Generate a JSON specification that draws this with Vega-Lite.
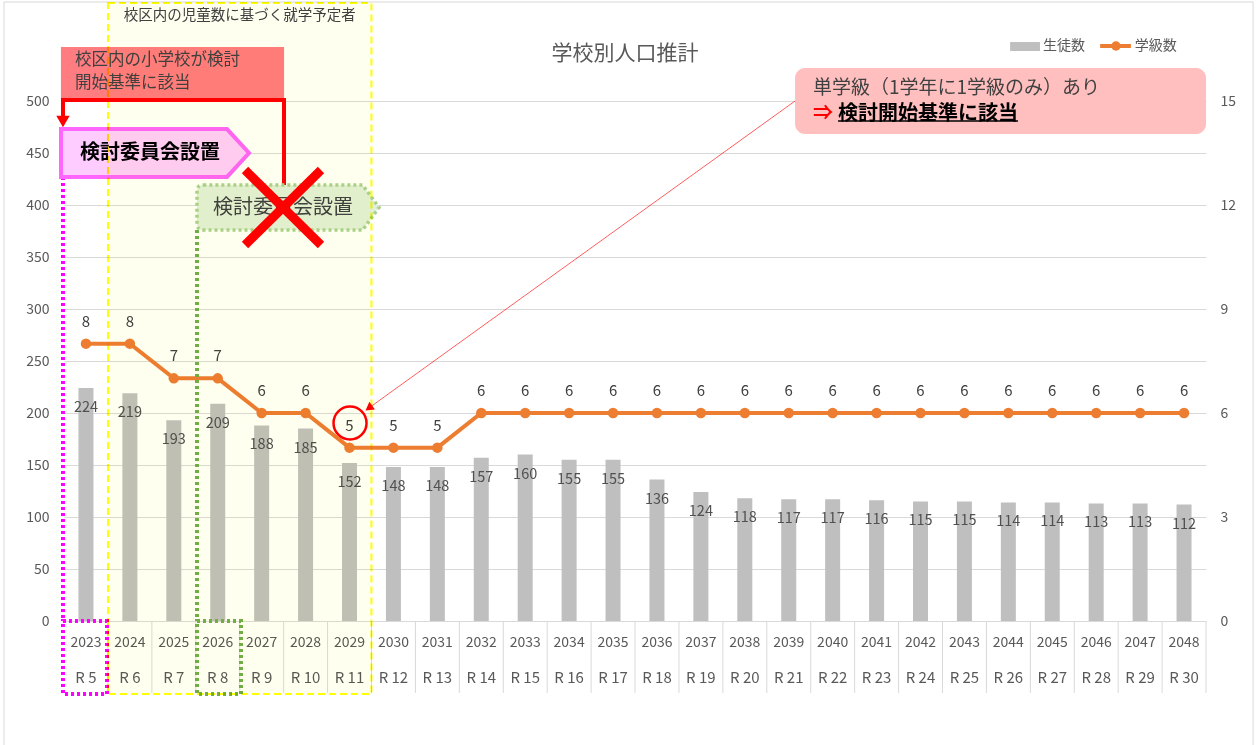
{
  "$schema": "https://vega.github.io/schema/vega-lite/v6.json",
  "width": 1142,
  "height": 520,
  "autosize": {"type": "none"},
  "padding": {"left": 64, "top": 101, "right": 50, "bottom": 124},
  "background": "white",
  "config": {"view": {"stroke": null}, "font": "Noto Sans CJK JP", "text": {"font": "Noto Sans CJK JP"}},
  "datasets": {
    "main": [
      {"year": 2023, "students": 224, "classes": 8, "era": "R 5"},
      {"year": 2024, "students": 219, "classes": 8, "era": "R 6"},
      {"year": 2025, "students": 193, "classes": 7, "era": "R 7"},
      {"year": 2026, "students": 209, "classes": 7, "era": "R 8"},
      {"year": 2027, "students": 188, "classes": 6, "era": "R 9"},
      {"year": 2028, "students": 185, "classes": 6, "era": "R 10"},
      {"year": 2029, "students": 152, "classes": 5, "era": "R 11"},
      {"year": 2030, "students": 148, "classes": 5, "era": "R 12"},
      {"year": 2031, "students": 148, "classes": 5, "era": "R 13"},
      {"year": 2032, "students": 157, "classes": 6, "era": "R 14"},
      {"year": 2033, "students": 160, "classes": 6, "era": "R 15"},
      {"year": 2034, "students": 155, "classes": 6, "era": "R 16"},
      {"year": 2035, "students": 155, "classes": 6, "era": "R 17"},
      {"year": 2036, "students": 136, "classes": 6, "era": "R 18"},
      {"year": 2037, "students": 124, "classes": 6, "era": "R 19"},
      {"year": 2038, "students": 118, "classes": 6, "era": "R 20"},
      {"year": 2039, "students": 117, "classes": 6, "era": "R 21"},
      {"year": 2040, "students": 117, "classes": 6, "era": "R 22"},
      {"year": 2041, "students": 116, "classes": 6, "era": "R 23"},
      {"year": 2042, "students": 115, "classes": 6, "era": "R 24"},
      {"year": 2043, "students": 115, "classes": 6, "era": "R 25"},
      {"year": 2044, "students": 114, "classes": 6, "era": "R 26"},
      {"year": 2045, "students": 114, "classes": 6, "era": "R 27"},
      {"year": 2046, "students": 113, "classes": 6, "era": "R 28"},
      {"year": 2047, "students": 113, "classes": 6, "era": "R 29"},
      {"year": 2048, "students": 112, "classes": 6, "era": "R 30"}
    ],
    "border": [{"x": 2021.134, "x2": 2049.572, "y": 595.2, "y2": -130}],
    "yellowBox": [{"x": 2023.5, "x2": 2029.5, "y": 594.2, "y2": -70.2}],
    "yellowText": [{"x": 2026.5, "y": 581.7, "text": "校区内の児童数に基づく就学予定者"}],
    "redBox": [{"x": 2022.43, "x2": 2027.51, "y": 551.9, "y2": 501}],
    "redBoxText": [
      {"x": 2022.75, "y": 539.9, "text": "校区内の小学校が検討"},
      {"x": 2022.75, "y": 517.3, "text": "開始基準に該当"}
    ],
    "connector": [
      {"order": 1, "x": 2027.509, "y": 417.3},
      {"order": 2, "x": 2027.509, "y": 501.0},
      {"order": 3, "x": 2022.477, "y": 501.0},
      {"order": 4, "x": 2022.477, "y": 485.6}
    ],
    "connectorHead": [{"x": 2022.477, "y": 480.3}],
    "pinkChevron": [{"x": 2024.572, "y": 450}],
    "pinkText": [{"x": 2022.864, "y": 450, "text": "検討委員会設置"}],
    "magentaLine": [{"x": 2022.477, "y": 426.9, "y2": 0}],
    "magentaBox": [{"x": 2022.477, "x2": 2023.479, "y": 0, "y2": -70.2}],
    "greenChevron": [{"x": 2027.6, "y": 397.6}],
    "greenText": [{"x": 2025.892, "y": 397.1, "text": "検討委員会設置"}],
    "greenLine": [{"x": 2025.528, "y": 376, "y2": 0}],
    "greenBox": [{"x": 2025.528, "x2": 2026.53, "y": 0, "y2": -70.2}],
    "redX": [
      {"x": 2026.621, "y": 433.7, "x2": 2028.351, "y2": 361.5},
      {"x": 2028.351, "y": 433.7, "x2": 2026.621, "y2": 361.5}
    ],
    "circle": [{"x": 2029.012, "y": 190.4}],
    "pointer": [{"x": 2039.144, "y": 500, "x2": 2029.44, "y2": 204.8}],
    "pointerHead": [{"x": 2029.44, "y": 204.8}],
    "callout": [{"x": 2039.144, "x2": 2048.5, "y": 531.7, "y2": 468.3}],
    "calloutText": [{"x": 2039.553, "y": 512.5, "text": "単学級（1学年に1学級のみ）あり"}],
    "calloutArrow": [{"x": 2039.553, "y": 487.5, "text": "⇒"}],
    "calloutBold": [{"x": 2040.123, "y": 487.5, "text": "検討開始基準に該当"}],
    "underline": [{"x": 2040.123, "x2": 2044.22, "y": 480.8}],
    "title": [{"x": 2035.273, "y": 545.2, "text": "学校別人口推計"}],
    "legendBar": [{"x": 2044.04, "x2": 2044.72, "y": 556.7, "y2": 548.1}],
    "legendLine": [{"x": 2046.09, "x2": 2046.79, "y": 552.9}],
    "legendDot": [{"x": 2046.45, "y": 552.9}],
    "legendText": [
      {"x": 2044.79, "y": 552.9, "text": "生徒数"},
      {"x": 2046.88, "y": 552.9, "text": "学級数"}
    ]
  },
  "resolve": {"scale": {"y": "independent"}},
  "layer": [
    {
      "data": {"name": "main"},
      "layer": [
        {
          "mark": {"type": "bar", "width": 15, "color": "#BFBFBF"},
          "encoding": {
            "x": {"field": "year", "type": "quantitative", "scale": {"domain": [2022.5, 2048.5], "nice": false, "zero": false, "padding": 0}, "axis": null},
            "y": {"field": "students", "type": "quantitative", "scale": {"domain": [0, 500], "nice": false, "zero": false},
              "axis": {"orient": "left", "values": [0, 50, 100, 150, 200, 250, 300, 350, 400, 450, 500], "title": null, "grid": true, "gridColor": "#D9D9D9", "gridWidth": 1, "domain": false, "ticks": false, "labelColor": "#595959", "labelFontSize": 14, "labelPadding": 15, "labelFont": "Noto Sans CJK JP"}}
          }
        },
        {
          "mark": {"type": "text", "dy": 20, "baseline": "middle", "fontSize": 14.5, "color": "#505050"},
          "encoding": {
            "x": {"field": "year", "type": "quantitative", "axis": null},
            "y": {"field": "students", "type": "quantitative"},
            "text": {"field": "students", "type": "quantitative"}
          }
        },
        {
          "mark": {"type": "text", "dy": 22, "baseline": "middle", "fontSize": 14, "color": "#595959"},
          "encoding": {
            "x": {"field": "year", "type": "quantitative", "axis": null},
            "y": {"datum": 0, "type": "quantitative"},
            "text": {"field": "year", "type": "nominal"}
          }
        },
        {
          "mark": {"type": "text", "dy": 57, "baseline": "middle", "fontSize": 15, "color": "#595959"},
          "encoding": {
            "x": {"field": "year", "type": "quantitative", "axis": null},
            "y": {"datum": 0, "type": "quantitative"},
            "text": {"field": "era", "type": "nominal"}
          }
        },
        {
          "mark": {"type": "rule", "xOffset": 22, "color": "#D9D9D9", "strokeWidth": 1},
          "encoding": {
            "x": {"field": "year", "type": "quantitative", "axis": null},
            "y": {"datum": 0, "type": "quantitative"},
            "y2": {"datum": -69.2}
          }
        }
      ]
    },
    {
      "data": {"name": "main"},
      "layer": [
        {
          "mark": {"type": "line", "color": "#ED7D31", "strokeWidth": 4, "point": {"filled": true, "size": 110, "color": "#ED7D31", "opacity": 1}},
          "encoding": {
            "x": {"field": "year", "type": "quantitative", "axis": null},
            "y": {"field": "classes", "type": "quantitative", "scale": {"domain": [0, 15], "nice": false, "zero": false},
              "axis": {"orient": "right", "values": [0, 3, 6, 9, 12, 15], "title": null, "grid": false, "domain": false, "ticks": false, "labelColor": "#595959", "labelFontSize": 14, "labelPadding": 14, "labelFont": "Noto Sans CJK JP"}}
          }
        },
        {
          "mark": {"type": "text", "dy": -22, "baseline": "middle", "fontSize": 15, "color": "#404040"},
          "encoding": {
            "x": {"field": "year", "type": "quantitative", "axis": null},
            "y": {"field": "classes", "type": "quantitative"},
            "text": {"field": "classes", "type": "quantitative"}
          }
        }
      ]
    },
    {
      "layer": [
        {
          "data": {"name": "border"},
          "mark": {"type": "rect", "fill": null, "stroke": "#D9D9D9", "strokeWidth": 1},
          "encoding": {
            "x": {"field": "x", "type": "quantitative", "axis": null}, "x2": {"field": "x2"},
            "y": {"field": "y", "type": "quantitative", "scale": {"domain": [0, 500], "nice": false, "zero": false}, "axis": null}, "y2": {"field": "y2"}
          }
        },
        {
          "data": {"name": "redBox"},
          "mark": {"type": "rect", "fill": "#FF7C80"},
          "encoding": {
            "x": {"field": "x", "type": "quantitative", "axis": null}, "x2": {"field": "x2"},
            "y": {"field": "y", "type": "quantitative", "axis": null}, "y2": {"field": "y2"}
          }
        },
        {
          "data": {"name": "redBoxText"},
          "mark": {"type": "text", "align": "left", "baseline": "middle", "fontSize": 16.5, "color": "#404040"},
          "encoding": {
            "x": {"field": "x", "type": "quantitative", "axis": null},
            "y": {"field": "y", "type": "quantitative", "axis": null},
            "text": {"field": "text"}
          }
        },
        {
          "data": {"name": "connector"},
          "mark": {"type": "line", "color": "#FF0000", "strokeWidth": 4, "strokeJoin": "miter", "strokeCap": "butt"},
          "encoding": {
            "x": {"field": "x", "type": "quantitative", "axis": null},
            "y": {"field": "y", "type": "quantitative", "axis": null},
            "order": {"field": "order", "type": "quantitative"}
          }
        },
        {
          "data": {"name": "connectorHead"},
          "mark": {"type": "point", "shape": "triangle-down", "size": 180, "filled": true, "color": "#FF0000", "opacity": 1},
          "encoding": {
            "x": {"field": "x", "type": "quantitative", "axis": null},
            "y": {"field": "y", "type": "quantitative", "axis": null}
          }
        },
        {
          "data": {"name": "magentaLine"},
          "mark": {"type": "rule", "color": "#FF00FF", "strokeWidth": 4, "strokeDash": [3, 3]},
          "encoding": {
            "x": {"field": "x", "type": "quantitative", "axis": null},
            "y": {"field": "y", "type": "quantitative", "axis": null}, "y2": {"field": "y2"}
          }
        },
        {
          "data": {"name": "magentaBox"},
          "mark": {"type": "rect", "fill": null, "stroke": "#FF00FF", "strokeWidth": 4, "strokeDash": [3, 3]},
          "encoding": {
            "x": {"field": "x", "type": "quantitative", "axis": null}, "x2": {"field": "x2"},
            "y": {"field": "y", "type": "quantitative", "axis": null}, "y2": {"field": "y2"}
          }
        },
        {
          "data": {"name": "greenLine"},
          "mark": {"type": "rule", "color": "#70AD47", "strokeWidth": 4, "strokeDash": [3, 3]},
          "encoding": {
            "x": {"field": "x", "type": "quantitative", "axis": null},
            "y": {"field": "y", "type": "quantitative", "axis": null}, "y2": {"field": "y2"}
          }
        },
        {
          "data": {"name": "greenBox"},
          "mark": {"type": "rect", "fill": null, "stroke": "#70AD47", "strokeWidth": 4, "strokeDash": [3, 3]},
          "encoding": {
            "x": {"field": "x", "type": "quantitative", "axis": null}, "x2": {"field": "x2"},
            "y": {"field": "y", "type": "quantitative", "axis": null}, "y2": {"field": "y2"}
          }
        },
        {
          "data": {"name": "pinkChevron"},
          "mark": {"type": "point", "shape": "M-1,-0.255L0.766,-0.255L1,0L0.766,0.255L-1,0.255Z", "size": 35344, "filled": true, "fill": "#FFCCFF", "stroke": "#FF66FF", "strokeWidth": 4, "opacity": 1},
          "encoding": {
            "x": {"field": "x", "type": "quantitative", "axis": null},
            "y": {"field": "y", "type": "quantitative", "axis": null}
          }
        },
        {
          "data": {"name": "pinkText"},
          "mark": {"type": "text", "align": "left", "baseline": "middle", "fontSize": 20, "fontWeight": "bold", "color": "#000000"},
          "encoding": {
            "x": {"field": "x", "type": "quantitative", "axis": null},
            "y": {"field": "y", "type": "quantitative", "axis": null},
            "text": {"field": "text"}
          }
        },
        {
          "data": {"name": "greenChevron"},
          "mark": {"type": "point", "shape": "M-0.93,-0.247L0.82,-0.247L1,0L0.82,0.247L-0.93,0.247Q-1,0.247,-1,0.18L-1,-0.18Q-1,-0.247,-0.93,-0.247Z", "size": 33124, "filled": true, "fill": "#E2EFDA", "stroke": "#A9D18E", "strokeWidth": 3.5, "strokeDash": [3, 3], "opacity": 1},
          "encoding": {
            "x": {"field": "x", "type": "quantitative", "axis": null},
            "y": {"field": "y", "type": "quantitative", "axis": null}
          }
        },
        {
          "data": {"name": "greenText"},
          "mark": {"type": "text", "align": "left", "baseline": "middle", "fontSize": 20, "color": "#404040"},
          "encoding": {
            "x": {"field": "x", "type": "quantitative", "axis": null},
            "y": {"field": "y", "type": "quantitative", "axis": null},
            "text": {"field": "text"}
          }
        },
        {
          "data": {"name": "yellowBox"},
          "mark": {"type": "rect", "fill": "#FFFFF0", "blend": "multiply", "stroke": "#FFFF00", "strokeWidth": 2, "strokeDash": [7, 4]},
          "encoding": {
            "x": {"field": "x", "type": "quantitative", "axis": null}, "x2": {"field": "x2"},
            "y": {"field": "y", "type": "quantitative", "axis": null}, "y2": {"field": "y2"}
          }
        },
        {
          "data": {"name": "yellowText"},
          "mark": {"type": "text", "align": "center", "baseline": "middle", "fontSize": 14.5, "color": "#404040"},
          "encoding": {
            "x": {"field": "x", "type": "quantitative", "axis": null},
            "y": {"field": "y", "type": "quantitative", "axis": null},
            "text": {"field": "text"}
          }
        },
        {
          "data": {"name": "redX"},
          "mark": {"type": "rule", "color": "#FF0000", "strokeWidth": 9, "strokeCap": "butt"},
          "encoding": {
            "x": {"field": "x", "type": "quantitative", "axis": null}, "x2": {"field": "x2"},
            "y": {"field": "y", "type": "quantitative", "axis": null}, "y2": {"field": "y2"}
          }
        },
        {
          "data": {"name": "circle"},
          "mark": {"type": "point", "shape": "circle", "size": 1089, "filled": false, "stroke": "#FF0000", "strokeWidth": 2.5, "opacity": 1},
          "encoding": {
            "x": {"field": "x", "type": "quantitative", "axis": null},
            "y": {"field": "y", "type": "quantitative", "axis": null}
          }
        },
        {
          "data": {"name": "pointer"},
          "mark": {"type": "rule", "color": "#FF0000", "strokeWidth": 0.8, "opacity": 0.8},
          "encoding": {
            "x": {"field": "x", "type": "quantitative", "axis": null}, "x2": {"field": "x2"},
            "y": {"field": "y", "type": "quantitative", "axis": null}, "y2": {"field": "y2"}
          }
        },
        {
          "data": {"name": "pointerHead"},
          "mark": {"type": "point", "shape": "triangle-up", "angle": 234, "size": 90, "filled": true, "color": "#FF0000", "opacity": 1},
          "encoding": {
            "x": {"field": "x", "type": "quantitative", "axis": null},
            "y": {"field": "y", "type": "quantitative", "axis": null}
          }
        },
        {
          "data": {"name": "callout"},
          "mark": {"type": "rect", "fill": "#FFBFBF", "cornerRadius": 10},
          "encoding": {
            "x": {"field": "x", "type": "quantitative", "axis": null}, "x2": {"field": "x2"},
            "y": {"field": "y", "type": "quantitative", "axis": null}, "y2": {"field": "y2"}
          }
        },
        {
          "data": {"name": "calloutText"},
          "mark": {"type": "text", "align": "left", "baseline": "middle", "fontSize": 19, "color": "#404040"},
          "encoding": {
            "x": {"field": "x", "type": "quantitative", "axis": null},
            "y": {"field": "y", "type": "quantitative", "axis": null},
            "text": {"field": "text"}
          }
        },
        {
          "data": {"name": "calloutArrow"},
          "mark": {"type": "text", "align": "left", "baseline": "middle", "fontSize": 20, "fontWeight": "bold", "color": "#FF0000"},
          "encoding": {
            "x": {"field": "x", "type": "quantitative", "axis": null},
            "y": {"field": "y", "type": "quantitative", "axis": null},
            "text": {"field": "text"}
          }
        },
        {
          "data": {"name": "calloutBold"},
          "mark": {"type": "text", "align": "left", "baseline": "middle", "fontSize": 20, "fontWeight": "bold", "color": "#000000"},
          "encoding": {
            "x": {"field": "x", "type": "quantitative", "axis": null},
            "y": {"field": "y", "type": "quantitative", "axis": null},
            "text": {"field": "text"}
          }
        },
        {
          "data": {"name": "underline"},
          "mark": {"type": "rule", "color": "#000000", "strokeWidth": 1.5},
          "encoding": {
            "x": {"field": "x", "type": "quantitative", "axis": null}, "x2": {"field": "x2"},
            "y": {"field": "y", "type": "quantitative", "axis": null}
          }
        },
        {
          "data": {"name": "title"},
          "mark": {"type": "text", "align": "center", "baseline": "middle", "fontSize": 21, "color": "#595959"},
          "encoding": {
            "x": {"field": "x", "type": "quantitative", "axis": null},
            "y": {"field": "y", "type": "quantitative", "axis": null},
            "text": {"field": "text"}
          }
        },
        {
          "data": {"name": "legendBar"},
          "mark": {"type": "rect", "fill": "#BFBFBF"},
          "encoding": {
            "x": {"field": "x", "type": "quantitative", "axis": null}, "x2": {"field": "x2"},
            "y": {"field": "y", "type": "quantitative", "axis": null}, "y2": {"field": "y2"}
          }
        },
        {
          "data": {"name": "legendLine"},
          "mark": {"type": "rule", "color": "#ED7D31", "strokeWidth": 4},
          "encoding": {
            "x": {"field": "x", "type": "quantitative", "axis": null}, "x2": {"field": "x2"},
            "y": {"field": "y", "type": "quantitative", "axis": null}
          }
        },
        {
          "data": {"name": "legendDot"},
          "mark": {"type": "point", "shape": "circle", "size": 90, "filled": true, "color": "#ED7D31", "opacity": 1},
          "encoding": {
            "x": {"field": "x", "type": "quantitative", "axis": null},
            "y": {"field": "y", "type": "quantitative", "axis": null}
          }
        },
        {
          "data": {"name": "legendText"},
          "mark": {"type": "text", "align": "left", "baseline": "middle", "fontSize": 14, "color": "#595959"},
          "encoding": {
            "x": {"field": "x", "type": "quantitative", "axis": null},
            "y": {"field": "y", "type": "quantitative", "axis": null},
            "text": {"field": "text"}
          }
        }
      ]
    }
  ]
}
